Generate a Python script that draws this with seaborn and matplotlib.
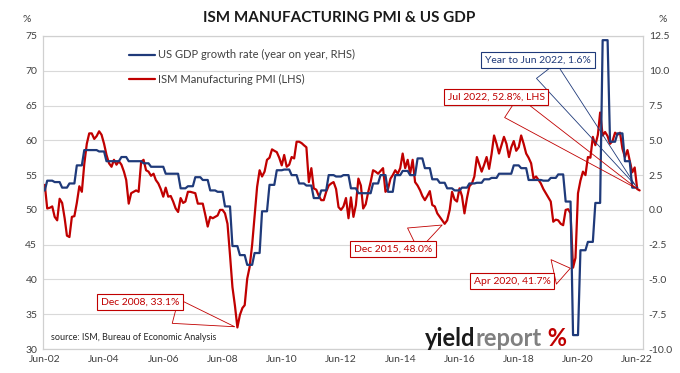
import numpy as np
import pandas as pd
import seaborn as sns
import matplotlib
matplotlib.use("Agg")
import matplotlib.pyplot as plt
import matplotlib.dates as mdates
from matplotlib.offsetbox import TextArea, HPacker, AnchoredOffsetbox

# ISM manufacturing PMI, monthly, Jun 2002 .. Jul 2022
pmi_2002 = [53.6, 50.2, 50.3, 50.5, 49.0, 48.5, 51.6]
pmi_2003 = [51.0, 48.8, 46.3, 46.1, 49.0, 49.1, 51.0, 53.4, 52.6, 56.6, 59.5, 61.0]
pmi_2004 = [61.0, 60.2, 60.6, 61.3, 60.8, 59.5, 57.9, 56.7, 56.2, 57.2, 56.5, 57.0]
pmi_2005 = [56.5, 55.5, 54.3, 50.9, 52.4, 52.6, 52.8, 52.6, 56.9, 57.2, 55.7, 55.5]
pmi_2006 = [54.9, 55.2, 54.3, 53.8, 53.0, 51.9, 53.2, 51.9, 52.0, 51.2, 50.2, 49.7]
pmi_2007 = [51.7, 51.0, 51.2, 52.6, 52.6, 52.5, 52.4, 50.9, 50.9, 50.9, 49.3, 47.6]
pmi_2008 = [49.0, 48.8, 49.0, 49.2, 50.0, 50.0, 49.5, 48.0, 43.5, 38.9, 36.2, 33.1]
pmi_2009 = [34.9, 35.9, 36.3, 40.1, 41.8, 45.0, 49.0, 53.3, 55.7, 54.8, 55.5, 57.2]
pmi_2010 = [57.5, 58.7, 58.5, 58.3, 57.5, 56.4, 57.9, 56.2, 56.5, 57.6, 57.4, 59.8]
pmi_2011 = [59.8, 59.6, 59.3, 59.0, 54.0, 56.0, 53.1, 52.9, 52.0, 51.4, 51.4, 52.6]
pmi_2012 = [53.5, 53.8, 54.0, 53.0, 50.4, 50.0, 50.5, 51.7, 48.8, 51.8, 49.0, 50.7]
pmi_2013 = [54.5, 53.5, 50.2, 50.8, 52.5, 54.0, 55.7, 55.5, 55.2, 55.6, 56.0, 52.6]
pmi_2014 = [53.0, 54.5, 55.0, 55.7, 55.2, 56.0, 58.1, 56.0, 57.2, 55.2, 57.2, 54.0]
pmi_2015 = [53.5, 52.8, 52.0, 51.4, 52.0, 52.7, 50.7, 50.5, 49.5, 49.0, 48.5, 48.0]
pmi_2016 = [48.5, 50.0, 52.6, 51.5, 51.2, 53.1, 52.0, 49.5, 51.7, 53.4, 53.8, 54.8]
pmi_2017 = [57.6, 56.5, 55.5, 56.5, 57.6, 55.9, 58.0, 60.7, 59.5, 58.1, 59.3, 60.5]
pmi_2018 = [59.5, 57.6, 59.0, 59.9, 58.5, 59.0, 60.7, 59.5, 58.1, 57.5, 56.7, 54.5]
pmi_2019 = [54.8, 54.3, 53.8, 53.0, 52.4, 51.8, 51.2, 48.3, 48.6, 48.5, 48.0, 47.8]
pmi_2020 = [50.0, 50.1, 49.5, 41.7, 43.1, 52.4, 54.2, 55.5, 55.0, 57.6, 57.5, 60.5]
pmi_2021 = [59.3, 60.8, 64.0, 60.7, 61.2, 60.6, 59.5, 59.9, 61.1, 60.8, 61.1, 58.8]
pmi_2022 = [57.6, 58.6, 57.1, 55.4, 56.1, 53.0, 52.8]

pmi = (pmi_2002 + pmi_2003 + pmi_2004 + pmi_2005 + pmi_2006 + pmi_2007 + pmi_2008
       + pmi_2009 + pmi_2010 + pmi_2011 + pmi_2012 + pmi_2013 + pmi_2014 + pmi_2015
       + pmi_2016 + pmi_2017 + pmi_2018 + pmi_2019 + pmi_2020 + pmi_2021 + pmi_2022)

# US real GDP, year on year %, quarterly, Q2 2002 .. Q2 2022
gdp = [1.4,
       2.1, 2.0, 1.6, 1.9, 3.2, 4.3, 4.3, 4.2,      # Q3 02 .. Q2 04
       3.5, 3.5, 3.8, 3.5, 3.5, 3.35, 3.1, 3.1,     # Q3 04 .. Q2 06
       2.6, 2.6, 1.55, 1.7, 2.35, 2.15, 1.4, 1.3,   # Q3 06 .. Q2 08
       0.25, -2.6, -3.25, -3.95, -3.1, -0.1, 1.8, 2.85,
       2.9, 2.5, 1.9, 1.75, 0.85, 1.4, 2.5, 2.4,
       2.5, 1.55, 1.2, 1.2, 1.9, 2.5, 1.3, 2.5,
       2.8, 2.5, 3.7, 3.0, 2.2, 1.95, 1.55, 1.4,
       1.6, 1.9, 1.95, 2.2, 2.3, 2.6, 2.6, 3.2,
       3.0, 2.15, 2.15, 2.1, 2.3, 2.55, 0.6, -9.0,
       -2.9, -2.3, 0.5, 12.2, 4.9, 5.5, 3.5, 1.6]

pmi_dates = pd.date_range("2002-06-01", periods=len(pmi), freq="MS")
# each quarterly figure is shown against the three months of its quarter
gdp_dates = pd.date_range("2002-04-01", periods=3 * len(gdp), freq="MS")
df_pmi = pd.DataFrame({"date": pmi_dates, "pmi": pmi})
df_gdp = pd.DataFrame({"date": gdp_dates, "gdp": np.repeat(gdp, 3)})

navy = "#1f3a7a"
red = "#c00000"
grey_txt = "#404040"

sns.set_theme(style="white")
plt.rcParams["font.family"] = ["Lato", "DejaVu Sans"]

fig = plt.figure(figsize=(6.8, 3.73), dpi=100)
ax = fig.add_axes([0.063, 0.0643, 0.883, 0.8392])
ax2 = ax.twinx()

sns.lineplot(data=df_pmi, x="date", y="pmi", ax=ax, color=red, lw=1.6, legend=False)
sns.lineplot(data=df_gdp, x="date", y="gdp", ax=ax2, color=navy, lw=1.6, legend=False)

ax.set_xlim(pd.Timestamp("2002-05-08"), pd.Timestamp("2022-08-15"))
ax.set_ylim(30, 75)
ax2.set_ylim(-10, 12.5)
ax.set_yticks(np.arange(30, 76, 5))
ax2.set_yticks(np.arange(-10, 12.6, 2.5))
ax2.yaxis.set_major_formatter(matplotlib.ticker.FormatStrFormatter("%.1f"))
ax.xaxis.set_major_locator(mdates.YearLocator(base=2, month=6, day=1))
ax.xaxis.set_major_formatter(mdates.DateFormatter("%b-%y"))
ax.set_xlabel("")
ax.set_ylabel("")
ax2.set_ylabel("")

ax.yaxis.grid(True, color="#d9d9d9", lw=0.8)
ax.xaxis.grid(False)
for a in (ax, ax2):
    a.tick_params(length=0, labelsize=7.5, labelcolor=grey_txt, pad=4)
    for s in a.spines.values():
        s.set_color("#d0d0d0")
        s.set_linewidth(0.8)

# legend
handles = [ax2.get_lines()[0], ax.get_lines()[0]]
labels = ["US GDP growth rate (year on year, RHS)", "ISM Manufacturing PMI (LHS)"]
ax2.legend(handles, labels, loc="upper left", bbox_to_anchor=(0.135, 0.975),
           frameon=False, fontsize=8, handlelength=2.3, handletextpad=0.3,
           labelspacing=1.2, borderpad=0, labelcolor=grey_txt)

# titles and unit marks
fig.text(0.4985, 0.952, "ISM MANUFACTURING PMI & US GDP", ha="center", va="center",
         fontsize=11, fontweight="bold", color="#1a1a1a")
fig.text(27 / 680, 1 - 19 / 373, "%", ha="center", va="center", fontsize=7.5, color=grey_txt)
fig.text(663 / 680, 1 - 19 / 373, "%", ha="center", va="center", fontsize=7.5, color=grey_txt)
fig.text(51 / 680, 1 - 338 / 373, "source: ISM, Bureau of Economic Analysis",
         ha="left", va="center", fontsize=6.5, color="#262626")

# callouts
pmi_s = pd.Series(pmi, index=pmi_dates)
gdp_s = pd.Series(np.repeat(gdp, 3), index=gdp_dates)


def callout(text, when, value, trans, pos, color):
    ax2.annotate(text, xy=(mdates.date2num(pd.Timestamp(when)), value), xycoords=trans,
                 xytext=pos, textcoords="figure fraction", ha="center", va="center",
                 fontsize=7.5, color=color, zorder=5,
                 bbox=dict(boxstyle="square,pad=0.35", fc="white", ec=color, lw=0.8),
                 arrowprops=dict(arrowstyle="wedge,tail_width=2.4,shrink_factor=0.5",
                                 fc="none", ec=color, lw=0.6))


callout("Year to Jun 2022, 1.6%", "2022-06-01", gdp_s["2022-06-01"], ax2.transData,
        (538 / 680, 1 - 60 / 373), navy)
callout("Jul 2022, 52.8%, LHS", "2022-07-01", pmi_s["2022-07-01"], ax.transData,
        (496 / 680, 1 - 97 / 373), red)
callout("Dec 2015, 48.0%", "2015-12-01", pmi_s["2015-12-01"], ax.transData,
        (393 / 680, 1 - 249 / 373), red)
callout("Dec 2008, 33.1%", "2008-12-01", pmi_s["2008-12-01"], ax.transData,
        (140 / 680, 1 - 302 / 373), red)
callout("Apr 2020, 41.7%", "2020-04-01", pmi_s["2020-04-01"], ax.transData,
        (512 / 680, 1 - 281 / 373), red)

# logo
logo = HPacker(children=[
    TextArea("yield", textprops=dict(color="#1a1a1a", fontsize=17, fontweight="bold")),
    TextArea("report", textprops=dict(color="#808080", fontsize=17, fontweight="bold")),
    TextArea(" %", textprops=dict(color=red, fontsize=17, fontweight="bold")),
], align="baseline", pad=0, sep=0)
ax2.add_artist(AnchoredOffsetbox(loc="lower left", child=logo, frameon=False, pad=0,
                                 borderpad=0, bbox_to_anchor=(425 / 680, 1 - 350 / 373),
                                 bbox_transform=fig.transFigure))

fig.savefig("out.png", dpi=100)
